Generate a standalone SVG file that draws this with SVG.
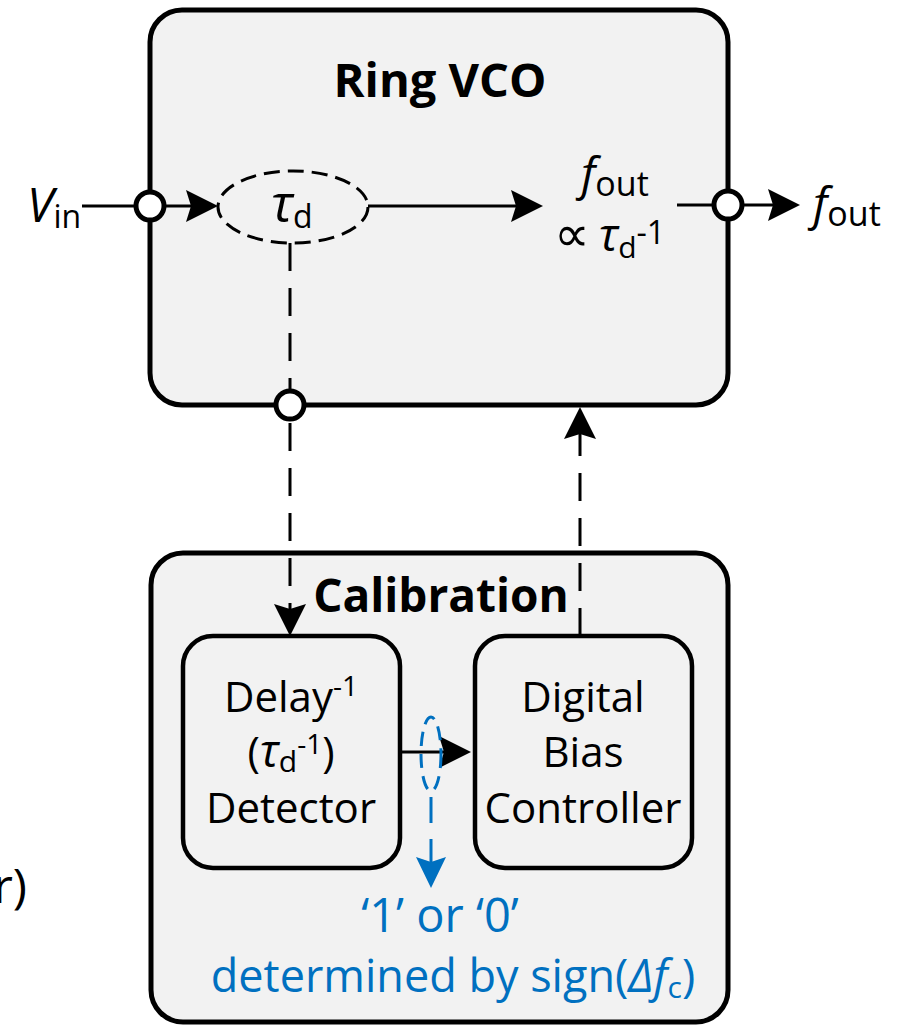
<svg xmlns="http://www.w3.org/2000/svg" width="902" height="1026" viewBox="0 0 902 1026">
<defs>
<style>
.box{fill:#f2f2f2;stroke:#000;stroke-width:5}
.sub{fill:#f2f2f2;stroke:#000;stroke-width:4.5}
.ln{stroke:#000;stroke-width:3;fill:none}
.dash{stroke:#000;stroke-width:3;fill:none;stroke-dasharray:28 17}
.bl{stroke:#0070C0;stroke-width:3;fill:none;stroke-dasharray:26 16}
.port{fill:#fff;stroke:#000;stroke-width:5}
text{font-family:"Open Sans","DejaVu Sans",sans-serif;fill:#000}
.t{font-size:42px}
.b{font-size:47px;font-weight:bold}
.i{font-style:italic}
.blue{fill:#0070C0;font-size:45px}
</style>
<marker id="ah" markerUnits="userSpaceOnUse" markerWidth="34" markerHeight="34" refX="22" refY="16" orient="auto" viewBox="0 0 34 34">
<path d="M0,0 L32,16 L0,32 L5,16 Z" fill="#000"/>
</marker>
<marker id="ahb" markerUnits="userSpaceOnUse" markerWidth="34" markerHeight="34" refX="21" refY="15" orient="auto" viewBox="0 0 34 34">
<path d="M0,0 L31,15 L0,30 L5,15 Z" fill="#0070C0"/>
</marker>
</defs>
<rect width="902" height="1026" fill="#fff"/>

<g id="ring-vco">
<rect class="box" x="150" y="10" width="578" height="395" rx="32"/>
<text class="b" x="440" y="97" text-anchor="middle">Ring VCO</text>
</g>

<g id="calibration">
<rect class="box" x="151" y="553" width="577" height="469" rx="32"/>
<text class="b" x="441" y="612" text-anchor="middle" style="font-size:46px">Calibration</text>
</g>

<g id="delay-ellipse">
<ellipse cx="293" cy="207" rx="75" ry="36" fill="none" stroke="#000" stroke-width="3" stroke-dasharray="16 8"/>
<text x="271" y="222" style="font-size:52px"><tspan class="i">τ</tspan><tspan dy="6" style="font-size:32px">d</tspan></text>
</g>

<g id="fout-label">
<text x="581" y="190" style="font-size:46px"><tspan class="i">f</tspan><tspan dy="6" style="font-size:34px">out</tspan></text>
<text x="554" y="251" style="font-size:40px"><tspan style="font-size:50px">∝</tspan><tspan dx="9" class="i" style="font-size:46px">τ</tspan><tspan dy="7" style="font-size:30px">d</tspan><tspan dy="-14" style="font-size:32px">-1</tspan></text>
</g>

<g id="vin-label">
<text x="27" y="222" style="font-size:48px"><tspan class="i">V</tspan><tspan dy="6" style="font-size:32px">in</tspan></text>
</g>

<g id="fout-output">
<text x="813" y="220" style="font-size:46px"><tspan class="i">f</tspan><tspan dy="6" style="font-size:34px">out</tspan></text>
</g>

<g id="delay-detector">
<rect class="sub" x="183" y="636" width="217" height="232" rx="30"/>
<text class="t" x="291" y="712" text-anchor="middle">Delay<tspan dy="-16" style="font-size:28px">-1</tspan></text>
<text class="t" x="291" y="767" text-anchor="middle">(<tspan class="i" style="font-size:45px">τ</tspan><tspan dy="5" style="font-size:30px">d</tspan><tspan dy="-18" style="font-size:28px">-1</tspan><tspan dy="13">)</tspan></text>
<text class="t" x="291" y="823" text-anchor="middle">Detector</text>
</g>

<g id="digital-bias-controller">
<rect class="sub" x="475" y="636" width="217" height="232" rx="30"/>
<text class="t" x="583" y="712" text-anchor="middle">Digital</text>
<text class="t" x="583" y="767" text-anchor="middle">Bias</text>
<text class="t" x="583" y="823" text-anchor="middle">Controller</text>
</g>

<g id="connectors">
<line class="ln" x1="82" y1="206" x2="208" y2="206" marker-end="url(#ah)"/>
<line class="ln" x1="368" y1="206" x2="533" y2="206" marker-end="url(#ah)"/>
<line class="ln" x1="677" y1="205" x2="790" y2="205" marker-end="url(#ah)"/>
<line class="dash" x1="290" y1="243" x2="290" y2="626" marker-end="url(#ah)"/>
<line class="dash" x1="580" y1="636" x2="580" y2="417" marker-end="url(#ah)"/>
<line class="ln" x1="400" y1="752" x2="461" y2="752" marker-end="url(#ah)"/>
<ellipse cx="431" cy="754" rx="10" ry="37" fill="none" stroke="#0070C0" stroke-width="3" stroke-dasharray="14 8"/>
<line class="bl" x1="431" y1="797" x2="431" y2="878" marker-end="url(#ahb)"/>
<circle class="port" cx="150" cy="206" r="14"/>
<circle class="port" cx="728" cy="205" r="14"/>
<circle class="port" cx="290" cy="405" r="14"/>
</g>

<g id="blue-note">
<text class="blue" x="440" y="932" text-anchor="middle" style="font-size:47px">‘1’ or ‘0’</text>
<text class="blue" x="453" y="992" text-anchor="middle">determined by sign(<tspan class="i">Δf</tspan><tspan dy="6" style="font-size:30px">c</tspan><tspan dy="-6">)</tspan></text>
</g>

<g id="clipped-text">
<text x="27" y="903" text-anchor="end" style="font-size:48px">r)</text>
</g>
</svg>
